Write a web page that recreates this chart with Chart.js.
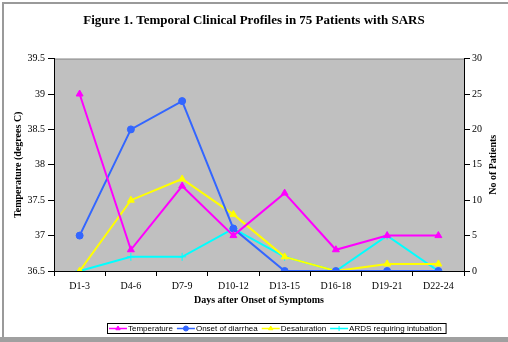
<!DOCTYPE html>
<html>
<head>
<meta charset="utf-8">
<script src="https://cdn.jsdelivr.net/npm/chart.js@4.4.1/dist/chart.umd.min.js"></script>
<style>
  html, body { margin: 0; padding: 0; background: #fff; }
  canvas { display: block; }
</style>
</head>
<body>
<canvas id="chart" width="508" height="342"></canvas>
<script>
// Données (températures à gauche, nb de patients à droite)
const categories   = ["D1-3", "D4-6", "D7-9", "D10-12", "D13-15", "D16-18", "D19-21", "D22-24"];
const temperature  = [39.0, 36.8, 37.7, 37.0, 37.6, 36.8, 37.0, 37.0];
const diarrhea     = [5, 20, 24, 6, 0, 0, 0, 0];
const desaturation = [0, 10, 13, 8, 2, 0, 1, 1];
const ards         = [0, 2, 2, 6, 2, 0, 5, 0];

const SERIF = "'Liberation Serif', 'Times New Roman', serif";
const SANS  = "'Liberation Sans', Arial, sans-serif";

// Cadre extérieur + fond gris de la zone de tracé
const framePlugin = {
  id: "frame",
  beforeDraw(chart) {
    const { ctx, chartArea: a, width, height } = chart;
    ctx.save();
    ctx.fillStyle = "#c0c0c0";
    ctx.fillRect(a.left, a.top, a.right - a.left, a.bottom - a.top);
    ctx.strokeStyle = "#8c8c8c";
    ctx.lineWidth = 1;
    ctx.beginPath();
    ctx.moveTo(a.left, a.top + 0.5);
    ctx.lineTo(a.right, a.top + 0.5);
    ctx.stroke();
    // bordure de la figure
    ctx.strokeStyle = "#9a9a9a";
    ctx.lineWidth = 2;
    ctx.beginPath();
    ctx.moveTo(3, height);
    ctx.lineTo(3, 3);
    ctx.lineTo(width, 3);
    ctx.stroke();
    ctx.fillStyle = "#a0a0a0";
    ctx.fillRect(0, height - 5, width, 5);
    ctx.restore();
  },
  afterDraw(chart) {
    const { ctx, chartArea: a } = chart;
    ctx.save();
    // titre de l'axe de droite (lu de bas en haut, comme Excel)
    ctx.fillStyle = "#000";
    ctx.font = "bold 10px " + SERIF;
    ctx.textAlign = "center";
    ctx.textBaseline = "middle";
    ctx.translate(493, (a.top + a.bottom) / 2);
    ctx.rotate(-Math.PI / 2);
    ctx.fillText("No of Patients", 0, 0);
    ctx.restore();
    drawLegend(chart);
  }
};

// Légende façon Excel : trait + marqueur, dans un cadre noir
function drawLegend(chart) {
  const { ctx } = chart;
  const y = 328;
  ctx.save();
  ctx.font = "8px " + SANS;
  const items = chart.data.datasets.map(ds => ({ ds, w: ctx.measureText(ds.label).width }));
  const total = items.reduce((s, it) => s + 18 + 1 + it.w + 4, 0) + 2;
  let x = 107;
  ctx.fillStyle = "#fff";
  ctx.fillRect(x, 323, total, 10);
  ctx.strokeStyle = "#000";
  ctx.lineWidth = 1;
  ctx.strokeRect(x + 0.5, 323.5, total, 10);
  x += 2;
  items.forEach(({ ds, w }) => {
    ctx.strokeStyle = ds.borderColor;
    ctx.fillStyle = ds.pointBackgroundColor;
    ctx.lineWidth = 1.5;
    ctx.beginPath();
    ctx.moveTo(x, y + 0.5);
    ctx.lineTo(x + 18, y + 0.5);
    ctx.stroke();
    ctx.lineWidth = 1;
    Chart.helpers.drawPoint(ctx, {
      pointStyle: ds.pointStyle, radius: 2.5, rotation: 0, borderWidth: 1
    }, x + 9, y + 0.5);
    ctx.fillStyle = "#000";
    ctx.textAlign = "left";
    ctx.textBaseline = "middle";
    ctx.fillText(ds.label, x + 19, y + 0.5);
    x += 18 + 1 + w + 4;
  });
  ctx.restore();
}

function series(label, data, color, style, axis, radius) {
  return {
    label, data, yAxisID: axis,
    borderColor: color, backgroundColor: color,
    pointBackgroundColor: color, pointBorderColor: color,
    pointStyle: style, pointRadius: radius, pointBorderWidth: 1,
    borderWidth: 2, tension: 0
  };
}

new Chart(document.getElementById("chart"), {
  type: "line",
  data: {
    labels: categories,
    datasets: [
      series("Temperature", temperature, "#ff00ff", "triangle", "yTemp", 4),
      series("Onset of diarrhea", diarrhea, "#3366ff", "circle", "yCount", 3.5),
      series("Desaturation", desaturation, "#ffff00", "triangle", "yCount", 4),
      series("ARDS requiring intubation", ards, "#00ffff", "cross", "yCount", 4)
    ]
  },
  plugins: [framePlugin],
  options: {
    responsive: false,
    animation: false,
    devicePixelRatio: 1,
    layout: { padding: { left: 0, right: 0, top: 0, bottom: 36 } },
    plugins: {
      legend: { display: false },
      tooltip: { enabled: false },
      title: {
        display: true,
        text: "Figure 1. Temporal Clinical Profiles in 75 Patients with SARS",
        color: "#000",
        font: { family: SERIF, size: 13, weight: "bold" },
        padding: { top: 13, bottom: 30 }
      }
    },
    scales: {
      x: {
        offset: true,
        grid: { offset: true, drawOnChartArea: false, tickLength: 5, color: "#000" },
        border: { color: "#000", width: 1 },
        ticks: { color: "#000", font: { family: SERIF, size: 10 }, padding: 4, maxRotation: 0 },
        title: {
          display: true, text: "Days after Onset of Symptoms", color: "#000",
          font: { family: SERIF, size: 10, weight: "bold" }, padding: { top: 4, bottom: 0 }
        },
        afterFit(s) { s.height = 35; }
      },
      yTemp: {
        position: "left",
        min: 36.5, max: 39.5,
        grid: { drawOnChartArea: false, tickLength: 6, color: "#000" },
        border: { color: "#000", width: 1 },
        ticks: {
          stepSize: 0.5, color: "#000", font: { family: SERIF, size: 10 }, padding: 3,
          callback: v => String(Number(v))
        },
        title: {
          display: true, text: "Temperature (degrees C)", color: "#000",
          font: { family: SERIF, size: 10, weight: "bold" }, padding: { top: 12, bottom: 0 }
        },
        afterFit(s) { s.width = 54; }
      },
      yCount: {
        position: "right",
        min: 0, max: 30,
        grid: { drawOnChartArea: false, tickLength: 6, color: "#000" },
        border: { color: "#000", width: 1 },
        ticks: { stepSize: 5, color: "#000", font: { family: SERIF, size: 10 }, padding: 2 },
        afterFit(s) { s.width = 44; }
      }
    }
  }
});
</script>
</body>
</html>
